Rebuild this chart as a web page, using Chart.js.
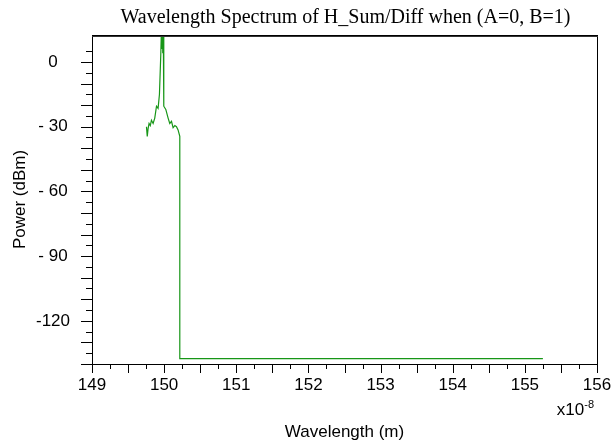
<!DOCTYPE html>
<html lang="en">
<head>
<meta charset="UTF-8">
<title>Wavelength Spectrum</title>
<script src="https://cdn.jsdelivr.net/npm/chart.js"></script>
<style>
  body {
    margin: 0;
    background: #fff;
  }
  canvas {
    display: block;
  }
</style>
</head>
<body>
  <canvas id="spectrumChart" width="612" height="443"></canvas>

  <script>
    // wavelength in units of 1e-8 m, power in dBm
    const wavelength = [
      149.755, 149.766, 149.777, 149.791, 149.808, 149.824, 149.847, 149.870,
      149.894, 149.916, 149.935, 149.953, 149.963, 149.970, 149.976, 149.981,
      149.988, 149.992, 149.998, 150.023, 150.055, 150.078, 150.102, 150.124,
      150.148, 150.171, 150.193, 150.217, 150.217, 155.250
    ];
    const power = [
      -30, -34.5, -31, -28.5, -29.5, -27, -28.5, -26,
      -20.5, -21.5, -15, 3, 16, 6, 16, 4,
      16, 3, -20.5, -22, -26, -28.5, -27.5, -30.5,
      -29.5, -30, -31.5, -34.5, -137.5, -137.5
    ];
    const yLabelValues = [0, -30, -60, -90, -120];
    const yLabelText = ['0', '- 30', '- 60', '- 90', '-120'];
    const xLabelValues = [149, 150, 151, 152, 153, 154, 155, 156];

    const chartTitle = 'Wavelength Spectrum of H_Sum/Diff when (A=0, B=1)';
    const sans = '"Liberation Sans", Arial, sans-serif';

    // box, tick marks, title and exponent
    const frame = {
      id: 'frame',
      afterDraw(chart) {
        const { ctx, chartArea: a, scales: { x, y } } = chart;
        ctx.save();
        ctx.strokeStyle = '#000';
        ctx.lineWidth = 1;
        ctx.strokeRect(a.left + 0.5, a.top + 0.5, a.right - a.left, a.bottom - a.top);
        ctx.strokeStyle = '#333';
        ctx.beginPath();
        ctx.moveTo(a.left, a.top + 1.5);
        ctx.lineTo(a.right + 1, a.top + 1.5);
        ctx.stroke();

        ctx.strokeStyle = '#000';
        ctx.beginPath();
        y.ticks.forEach(t => {
          if (t.value % 5 !== 0) return;
          const py = Math.round(y.getPixelForValue(t.value)) + 0.5;
          const len = t.value % 10 === 0 ? 11 : 6;
          ctx.moveTo(a.left - len, py);
          ctx.lineTo(a.left, py);
        });
        x.ticks.forEach(t => {
          const px = Math.round(x.getPixelForValue(t.value)) + 0.5;
          const len = Math.abs(t.value * 2 - Math.round(t.value * 2)) < 1e-6 ? 9 : 5;
          ctx.moveTo(px, a.bottom);
          ctx.lineTo(px, a.bottom + len);
        });
        ctx.stroke();

        ctx.fillStyle = '#000';
        ctx.font = '20px "Liberation Serif", "Times New Roman", serif';
        ctx.textAlign = 'center';
        ctx.textBaseline = 'alphabetic';
        ctx.fillText(chartTitle, (a.left + a.right) / 2 + 1, 23);

        ctx.textAlign = 'right';
        ctx.font = '11px ' + sans;
        const expW = ctx.measureText('-8').width;
        ctx.fillText('-8', a.right - 3, 408);
        ctx.font = '17px ' + sans;
        ctx.fillText('x10', a.right - 3 - expW, 415);
        ctx.restore();
      }
    };

    const ctx = document.getElementById('spectrumChart').getContext('2d');

    new Chart(ctx, {
      type: 'line',
      data: {
        datasets: [{
          data: wavelength.map((w, i) => ({ x: w, y: power[i] })),
          borderColor: '#179617',
          borderWidth: 1.2,
          pointRadius: 0,
          tension: 0,
          fill: false
        }]
      },
      options: {
        responsive: false,
        animation: false,
        layout: { padding: { top: 35, right: 15, left: 0, bottom: 0 } },
        plugins: {
          legend: { display: false },
          tooltip: { enabled: false }
        },
        scales: {
          x: {
            type: 'linear',
            min: 149,
            max: 156,
            afterFit(scale) {
              scale.height = 79;
              scale.paddingLeft = 0;
              scale.paddingRight = 0;
            },
            grid: { drawOnChartArea: false, drawTicks: false },
            border: { display: false },
            ticks: {
              stepSize: 0.25,
              autoSkip: false,
              maxRotation: 0,
              padding: 11,
              color: '#000',
              font: { family: sans, size: 17 },
              callback: v => xLabelValues.includes(v) ? String(v) : ''
            },
            title: {
              display: true,
              text: 'Wavelength (m)',
              color: '#000',
              font: { family: sans, size: 17 },
              padding: { top: 0, bottom: 0 }
            }
          },
          y: {
            min: -140,
            max: 12.5,
            afterFit(scale) {
              scale.width = 92;
              scale.paddingTop = 0;
              scale.paddingBottom = 0;
            },
            grid: { drawOnChartArea: false, drawTicks: false },
            border: { display: false },
            ticks: {
              stepSize: 5,
              autoSkip: false,
              crossAlign: 'center',
              padding: 22,
              color: '#000',
              font: { family: sans, size: 17 },
              callback: v => {
                const i = yLabelValues.indexOf(v);
                return i >= 0 ? yLabelText[i] : '';
              }
            },
            title: {
              display: true,
              text: 'Power (dBm)',
              color: '#000',
              font: { family: sans, size: 17 },
              padding: { top: 10, bottom: 0 }
            }
          }
        }
      },
      plugins: [frame]
    });
  </script>
</body>
</html>
